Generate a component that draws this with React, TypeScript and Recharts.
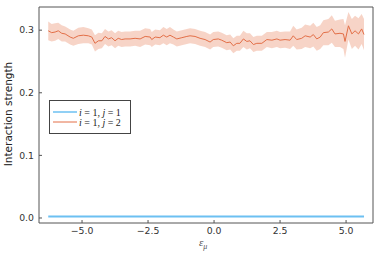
import { ComposedChart, Line, Area, XAxis, YAxis, Legend } from 'recharts';

// epsilon_mu grid
const xs = [
  -6.28, -6.15, -6.02, -5.9, -5.77, -5.64, -5.45, -5.33, -5.14, -4.95,
  -4.76, -4.63, -4.51, -4.38, -4.25, -4.13, -4.0, -3.88, -3.75, -3.63,
  -3.5, -3.37, -3.18, -2.99, -2.8, -2.61, -2.42, -2.36, -2.23, -2.05,
  -1.92, -1.79, -1.67, -1.54, -1.41, -1.22, -1.03, -0.91, -0.72, -0.53,
  -0.34, -0.15, -0.03, 0.16, 0.29, 0.48, 0.61, 0.73, 0.86, 0.98,
  1.11, 1.24, 1.36, 1.49, 1.62, 1.81, 2.0, 2.19, 2.38, 2.5,
  2.69, 2.88, 3.0, 3.13, 3.32, 3.45, 3.64, 3.76, 3.89, 4.02,
  4.14, 4.33, 4.46, 4.58, 4.77, 4.9, 4.96, 5.09, 5.22, 5.34,
  5.47, 5.59, 5.68,
];

// i = 1, j = 2 : mean and spread
const meanJ2 = [
  0.299, 0.296, 0.297, 0.299, 0.295, 0.294, 0.289, 0.287, 0.291, 0.292,
  0.291, 0.289, 0.279, 0.283, 0.283, 0.29, 0.286, 0.288, 0.283, 0.287,
  0.285, 0.286, 0.286, 0.287, 0.286, 0.29, 0.289, 0.285, 0.289, 0.288,
  0.292, 0.289, 0.292, 0.289, 0.286, 0.288, 0.29, 0.291, 0.29, 0.287,
  0.285, 0.281, 0.285, 0.286, 0.284, 0.28, 0.281, 0.275, 0.279, 0.279,
  0.286, 0.282, 0.283, 0.277, 0.279, 0.279, 0.285, 0.284, 0.286, 0.284,
  0.285, 0.284, 0.291, 0.285, 0.287, 0.291, 0.289, 0.293, 0.286, 0.289,
  0.296, 0.297, 0.302, 0.294, 0.295, 0.294, 0.282, 0.307, 0.294, 0.299,
  0.294, 0.302, 0.293,
];

const errJ2 = [
  0.015, 0.014, 0.014, 0.013, 0.013, 0.012, 0.012, 0.012, 0.013, 0.013,
  0.012, 0.012, 0.013, 0.013, 0.012, 0.012, 0.012, 0.012, 0.012, 0.012,
  0.012, 0.012, 0.012, 0.012, 0.013, 0.013, 0.013, 0.012, 0.012, 0.012,
  0.013, 0.013, 0.013, 0.012, 0.012, 0.012, 0.012, 0.012, 0.012, 0.012,
  0.012, 0.012, 0.012, 0.012, 0.012, 0.012, 0.012, 0.012, 0.012, 0.012,
  0.013, 0.013, 0.012, 0.012, 0.012, 0.012, 0.012, 0.013, 0.013, 0.013,
  0.013, 0.014, 0.016, 0.016, 0.017, 0.018, 0.018, 0.019, 0.019, 0.019,
  0.02, 0.021, 0.022, 0.021, 0.022, 0.024, 0.026, 0.022, 0.024, 0.024,
  0.025, 0.024, 0.025,
];

// i = 1, j = 1 : flat near zero
const xsJ1 = [-6.28, -4.0, -2.0, 0.0, 2.0, 4.0, 5.68];
const meanJ1 = [0.0025, 0.0025, 0.0025, 0.0024, 0.0025, 0.0025, 0.0025];

const xTicks = [-5, -2.5, 0, 2.5, 5];
const yTicks = [0, 0.1, 0.2, 0.3];

const BLUE = '#6cc0f2';
const ORANGE = '#e36f47';
const FRAME = '#555';
const FONT = 'DejaVu Sans';

const dataJ2 = xs.map((x, i) => ({
  x,
  mean: meanJ2[i],
  band: [meanJ2[i] - errJ2[i], meanJ2[i] + errJ2[i]],
}));
const dataJ1 = xsJ1.map((x, i) => ({ x, mean: meanJ1[i] }));

const fmt = (v: number) => v.toFixed(1).replace('-', '\u2212');
const tickStyle = { fontSize: 9.3, fill: '#333', fontFamily: FONT };

const LegendBox = () => (
  <svg width={82} height={34} style={{ display: 'block' }}>
    <rect x={0.5} y={0.5} width={81} height={33} fill="#fff" stroke="#444" />
    <line x1={4} x2={28} y1={12} y2={12} stroke={BLUE} strokeWidth={1.5} />
    <line x1={4} x2={28} y1={22} y2={22} stroke={ORANGE} strokeWidth={1} />
    <text x={30} y={15.5} fontSize={10} fontFamily="Liberation Serif" fill="#222">
      <tspan fontStyle="italic">i</tspan> = 1, <tspan fontStyle="italic">j</tspan> = 1
    </text>
    <text x={30} y={25.5} fontSize={10} fontFamily="Liberation Serif" fill="#222">
      <tspan fontStyle="italic">i</tspan> = 1, <tspan fontStyle="italic">j</tspan> = 2
    </text>
  </svg>
);

export default function App() {
  return (
    <div style={{ position: 'absolute', left: 0, top: 0, width: 381, height: 254, background: '#fff' }}>
      <ComposedChart
        width={381}
        height={254}
        data={dataJ2}
        margin={{ top: 6, right: 7, bottom: 0, left: 0 }}
      >
        <XAxis
          dataKey="x"
          type="number"
          domain={[-6.63, 6.02]}
          ticks={xTicks}
          tickFormatter={fmt}
          allowDataOverflow
          height={31}
          tickSize={-3}
          tickMargin={7}
          stroke={FRAME}
          tick={tickStyle}
          label={{
            content: () => (
              <text x={199} y={246} fontFamily="Liberation Serif" fontStyle="italic" fontSize={11} fill="#555">
                ε<tspan fontSize={8} dy={2.5}>μ</tspan>
              </text>
            ),
          }}
        />
        <XAxis
          xAxisId="top"
          orientation="top"
          dataKey="x"
          type="number"
          domain={[-6.63, 6.02]}
          ticks={xTicks}
          allowDataOverflow
          height={1}
          tickSize={-3}
          tick={false}
          stroke={FRAME}
        />
        <YAxis
          type="number"
          domain={[-0.008, 0.337]}
          ticks={yTicks}
          tickFormatter={fmt}
          allowDataOverflow
          width={39}
          tickSize={-3}
          tickMargin={8}
          stroke={FRAME}
          tick={tickStyle}
          label={{
            content: () => (
              <text
                x={8}
                y={114}
                transform="rotate(-90, 8, 114)"
                textAnchor="middle"
                dominantBaseline="central"
                fontFamily={FONT}
                fontSize={10.5}
                fill="#222"
              >
                Interaction strength
              </text>
            ),
          }}
        />
        <YAxis
          yAxisId="right"
          orientation="right"
          type="number"
          domain={[-0.008, 0.337]}
          ticks={yTicks}
          allowDataOverflow
          width={1}
          tickSize={-3}
          tick={false}
          stroke={FRAME}
        />
        <Legend
          layout="horizontal"
          verticalAlign="middle"
          align="center"
          content={() => <LegendBox />}
          wrapperStyle={{ left: 49, top: 100, width: 'auto', height: 'auto' }}
        />
        <Line
          data={dataJ1}
          dataKey="mean"
          name="i = 1, j = 1"
          type="linear"
          stroke={BLUE}
          strokeWidth={2}
          dot={false}
          activeDot={false}
          isAnimationActive={false}
        />
        <Area
          dataKey="band"
          type="linear"
          stroke="none"
          fill={ORANGE}
          fillOpacity={0.3}
          activeDot={false}
          legendType="none"
          isAnimationActive={false}
        />
        <Line
          dataKey="mean"
          name="i = 1, j = 2"
          type="linear"
          stroke={ORANGE}
          strokeWidth={1}
          dot={false}
          activeDot={false}
          isAnimationActive={false}
        />
      </ComposedChart>
    </div>
  );
}
